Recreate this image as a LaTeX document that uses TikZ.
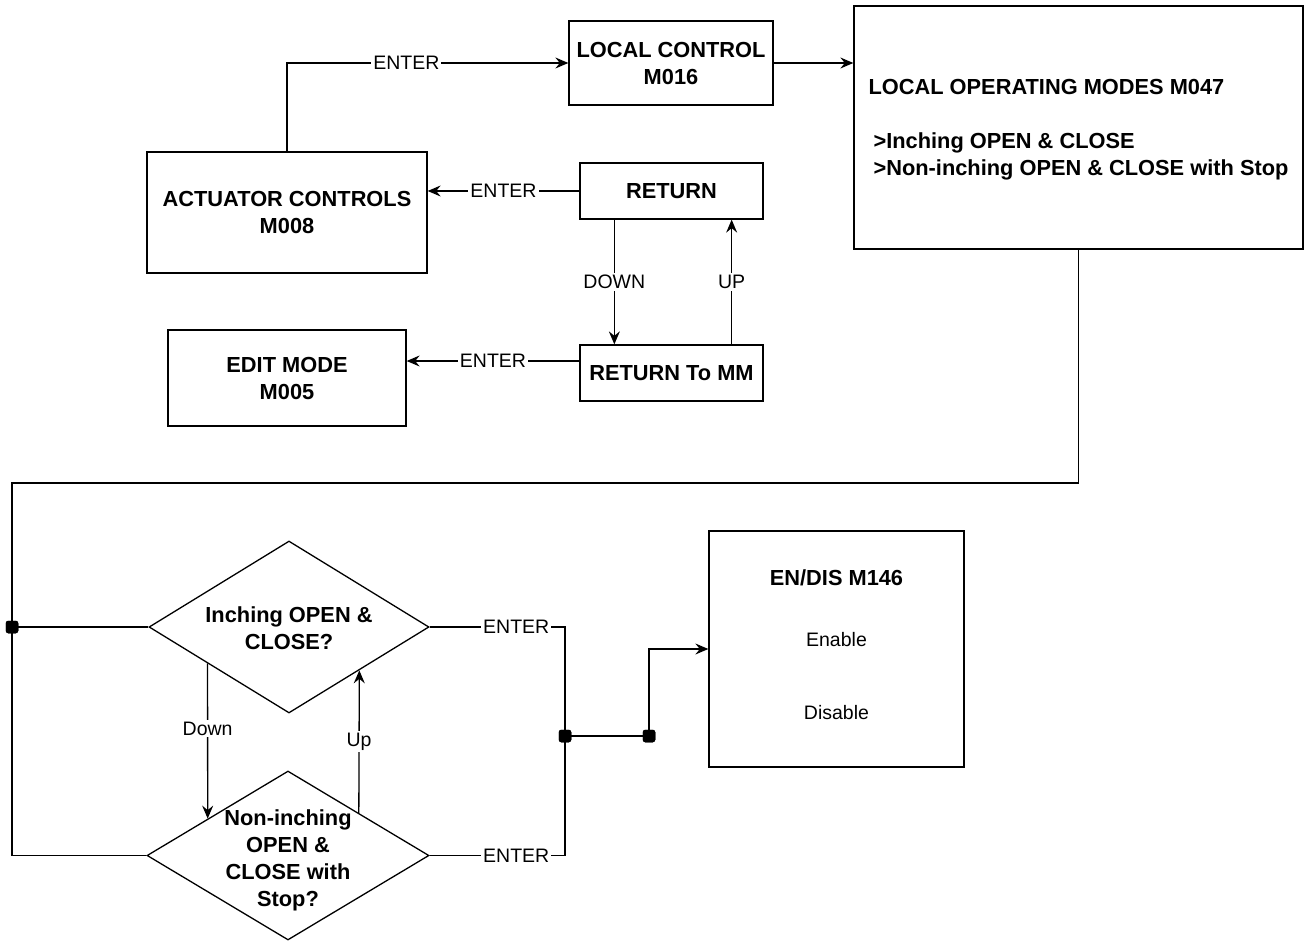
\documentclass[tikz,border=0pt]{standalone}
\usepackage{fontspec}
\setmainfont{Liberation Sans}
\usetikzlibrary{arrows.meta,shapes.geometric,calc}
\newcommand\bfnt{\fontsize{21.8}{27}\selectfont\bfseries}
\newcommand\rfnt{\fontsize{19.5}{23}\selectfont\mdseries}
\begin{document}
\begin{tikzpicture}[x=1pt,y=-1pt,
  box/.style={draw, line width=1.3pt, align=center, font=\bfnt, inner sep=0pt},
  dia/.style={draw, line width=1.3pt, shape=diamond, inner sep=0pt},
  txt/.style={align=center, font=\bfnt, inner sep=0pt},
  lbl/.style={fill=white, font=\rfnt, inner sep=2pt},
  conn/.style={line width=1.3pt},
  arr/.style={conn, -{Stealth[length=13pt,width=11pt,inset=4.5pt]}},
  dot/.style={fill=black, rectangle, rounded corners=2.5pt, minimum size=12.5pt, inner sep=0pt}]
\useasboundingbox (0,0) rectangle (1304,941);
% boxes
\node[box, minimum width=204, minimum height=84] (lc) at (671,63) {LOCAL CONTROL\\M016};
\node[box, minimum width=449, minimum height=243, align=left, text depth=0pt] (lom) at (1078.5,127.5)
  {LOCAL OPERATING MODES M047\\[27pt]\hspace*{5pt}>Inching OPEN \& CLOSE\\\hspace*{5pt}>Non-inching OPEN \& CLOSE with Stop};
\node[box, minimum width=280, minimum height=121] (ac) at (287,212.5) {ACTUATOR CONTROLS\\M008};
\node[box, minimum width=183, minimum height=56] (ret) at (671.5,191) {RETURN};
\node[box, minimum width=183, minimum height=56] (rmm) at (671.5,373) {RETURN To MM};
\node[box, minimum width=238, minimum height=96] (em) at (287,378) {EDIT MODE\\M005};
\node[box, minimum width=255, minimum height=236, text depth=8pt] (en) at (836.5,649)
  {EN/DIS M146\\[34pt]{\rfnt Enable}\\[46pt]{\rfnt Disable}};
% diamonds
\node[dia, minimum width=280, minimum height=172] (d1) at (289,627) {};
\node[dia, minimum width=282, minimum height=169] (d2) at (288,855.5) {};
\node[txt] (d1t) at ($(d1.center)+(0,1.5)$) {Inching OPEN \&\\CLOSE?};
\node[txt] (d2t) at ($(d2.center)+(0,5)$) {Non-inching\\OPEN \&\\CLOSE with\\Stop?};
% dots
\node[dot] (p1) at (12,627) {};
\node[dot] (p2) at (565,736) {};
\node[dot] (p3) at (649,736) {};
\coordinate (k2) at (12,483);
% top connectors
\draw[arr] (ac.north) |- node[lbl,pos=0.712]{ENTER} (lc.west);
\draw[arr] (lc.east) -- (lc.east -| lom.west);
\draw[arr] (ret.west) -- node[lbl]{ENTER} (ret.west -| ac.east);
\draw[arr] ($(ret.south west)+(35,0)$) -- node[lbl]{DOWN} ($(rmm.north west)+(35,0)$);
\draw[arr] ($(rmm.north east)+(-32,0)$) -- node[lbl]{UP} ($(ret.south east)+(-32,0)$);
\coordinate (rm1) at ($(rmm.west)+(0,-12)$);
\draw[arr] (rm1) -- node[lbl]{ENTER} (rm1 -| em.east);
% loop
\draw[conn] (lom.south) |- (k2) -- (k2 |- d2.west) -- (d2.west);
\draw[conn] (p1.center) -- (d1.west);
% right side
\draw[conn] (d1.east) -| node[lbl,pos=0.32]{ENTER} (p2.center);
\draw[conn] (d2.east) -| node[lbl,pos=0.32]{ENTER} (p2.center);
\draw[conn] (p2.center) -- (p3.center);
\draw[arr] (p3.center) |- (en.west);
% down / up between diamonds
\coordinate (dA) at ($(d1.west)!0.421!(d1.south)$);
\coordinate (dB) at ($(d2.west)!0.433!(d2.north)$);
\draw[arr] (dA) -- node[lbl,pos=0.42]{Down} (dB);
\coordinate (uA) at ($(d2.north)!0.5!(d2.east)$);
\coordinate (uB) at ($(d1.south)!0.5!(d1.east)$);
\draw[arr] (uA) -- node[lbl]{Up} (uB);
% redraw dots on top
\node[dot] at (p1) {};
\node[dot] at (p2) {};
\node[dot] at (p3) {};
\end{tikzpicture}
\end{document}
